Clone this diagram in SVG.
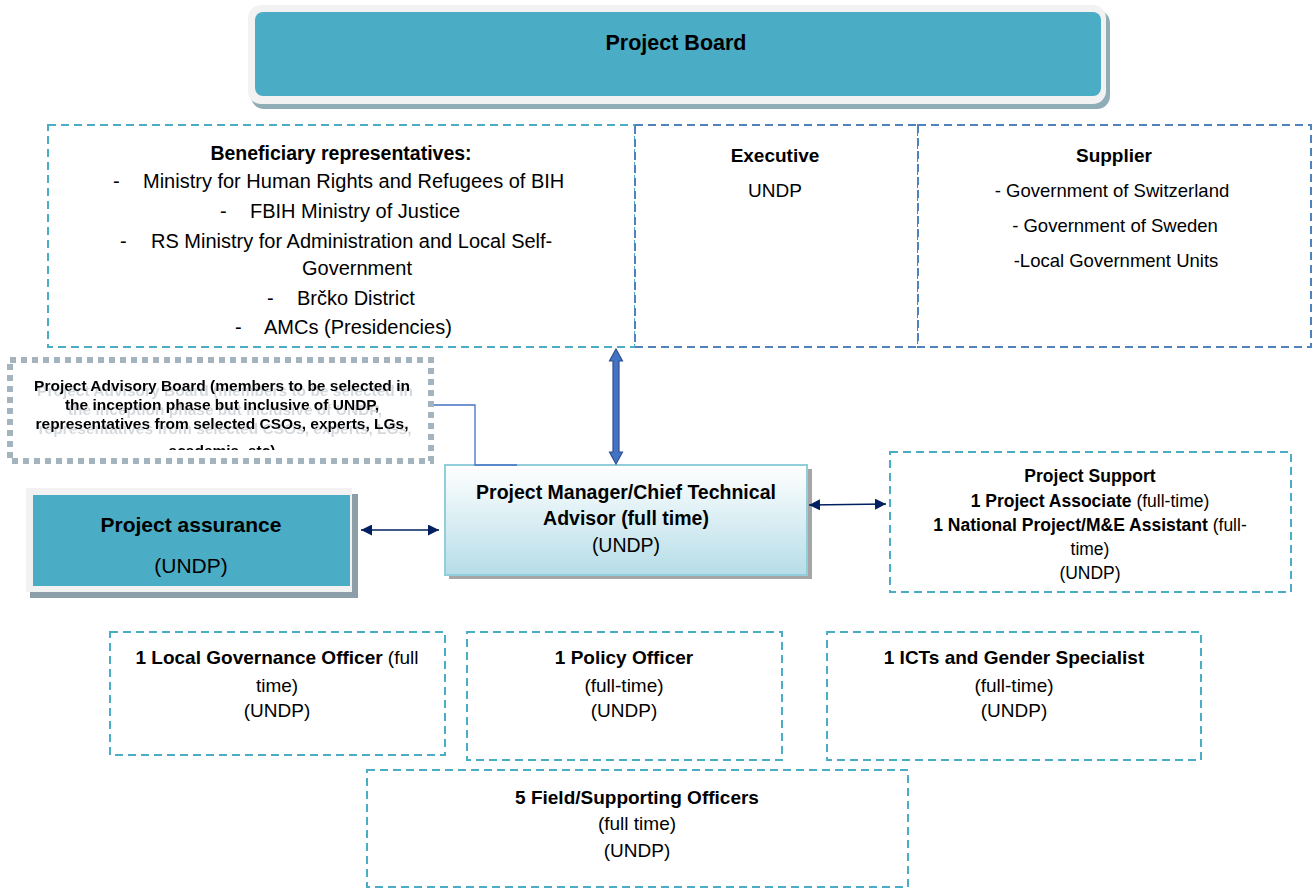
<svg xmlns="http://www.w3.org/2000/svg" width="1312" height="888" viewBox="0 0 1312 888">
<defs>
<style>
text{font-family:"Liberation Sans",Arial,sans-serif;fill:#000;}
.b{font-weight:bold;}
.c{text-anchor:middle;}
.dash{fill:#fff;stroke:#4BACC6;stroke-width:2;stroke-dasharray:8 5;}
.dashb{fill:#fff;stroke:#4F81BD;stroke-width:2;stroke-dasharray:8 5;}
.conn{stroke:#002060;stroke-width:1.6;fill:none;marker-start:url(#ah);marker-end:url(#ah);}
</style>
<marker id="ah" viewBox="0 0 10 10" refX="10" refY="5" markerWidth="11" markerHeight="11" markerUnits="userSpaceOnUse" orient="auto-start-reverse">
<path d="M0,0 L10,5 L0,10 z" fill="#002060"/>
</marker>
<linearGradient id="pmg" x1="0" y1="0" x2="0" y2="1">
<stop offset="0" stop-color="#FFFFFF"/>
<stop offset="1" stop-color="#B6DDE8"/>
</linearGradient>
<filter id="tsh" x="-5%" y="-20%" width="110%" height="150%">
<feFlood flood-color="#a9b3ba" flood-opacity="0.5" result="f"/>
<feComposite in="f" in2="SourceAlpha" operator="in" result="s"/>
<feOffset in="s" dx="3" dy="5" result="o"/>
<feMerge><feMergeNode in="o"/><feMergeNode in="SourceGraphic"/></feMerge>
</filter>
<clipPath id="advclip"><rect x="12" y="361" width="418" height="89"/></clipPath>
</defs>

<g id="project-board">
<rect x="251" y="10" width="859" height="99" rx="13" fill="#8FADB7"/>
<rect x="248" y="5" width="858" height="99" rx="13" fill="#F2F2F2"/>
<rect x="255" y="12" width="846" height="84" rx="8" fill="#4BACC6"/>
<text class="b c" x="676" y="50" font-size="21.5">Project Board</text>
</g>

<g id="beneficiary">
<rect class="dash" x="48" y="125" width="587" height="222"/>
<text class="b c" x="341" y="160" font-size="19.5">Beneficiary representatives:</text>
<g font-size="20">
<text x="113" y="188">-</text><text x="143" y="188">Ministry for Human Rights and Refugees of BIH</text>
<text x="220" y="218">-</text><text x="250" y="218">FBIH Ministry of Justice</text>
<text x="120" y="248">-</text><text x="151" y="248">RS Ministry for Administration and Local Self-</text>
<text class="c" x="357" y="275">Government</text>
<text x="267" y="305">-</text><text x="297" y="305">Brčko District</text>
<text x="235" y="334">-</text><text x="264" y="334">AMCs (Presidencies)</text>
</g>
</g>

<g id="executive">
<rect class="dashb" x="635" y="125" width="283" height="222" stroke-width="1.6"/>
<text class="b c" x="775" y="162" font-size="19">Executive</text>
<text class="c" x="775" y="197" font-size="19">UNDP</text>
</g>

<g id="supplier">
<rect class="dashb" x="918" y="125" width="393" height="222" stroke-width="1.6"/>
<text class="b c" x="1114" y="162" font-size="19">Supplier</text>
<text class="c" x="1112" y="197" font-size="18.5">- Government of Switzerland</text>
<text class="c" x="1115" y="232" font-size="18.5">- Government of Sweden</text>
<text class="c" x="1116" y="267" font-size="18.5">-Local Government Units</text>
</g>

<g id="advisory-board">
<rect x="10" y="360" width="421" height="101" fill="#fff" stroke="#A3B4BF" stroke-width="6" stroke-dasharray="6 5"/>
<g clip-path="url(#advclip)" filter="url(#tsh)">
<text class="b c" x="222" y="391" font-size="15.5">Project Advisory Board (members to be selected in</text>
<text class="b c" x="222" y="410" font-size="15.5">the inception phase but inclusive of UNDP,</text>
<text class="b c" x="222" y="429" font-size="15.5">representatives from selected CSOs, experts, LGs,</text>
<text class="b c" x="222" y="456" font-size="15.5">academia, etc)</text>
</g>
</g>

<g id="project-manager">
<rect x="449" y="469" width="363" height="110" fill="#A6A6A6"/>
<rect x="445" y="465" width="362" height="110" fill="url(#pmg)" stroke="#92CDDC" stroke-width="2"/>
<text class="b c" x="626" y="499" font-size="19.5">Project Manager/Chief Technical</text>
<text class="b c" x="626" y="525" font-size="19.5">Advisor (full time)</text>
<text class="c" x="626" y="552" font-size="19.5">(UNDP)</text>
</g>

<g id="project-assurance">
<rect x="30" y="494" width="328" height="104" fill="#8C9FA8"/>
<rect x="26" y="488" width="326" height="104" fill="#F2F2F2"/>
<rect x="33" y="495" width="317" height="91" fill="#4BACC6"/>
<text class="b c" x="191" y="532" font-size="21">Project assurance</text>
<text class="c" x="191" y="573" font-size="21">(UNDP)</text>
</g>

<g id="project-support">
<rect class="dash" x="890" y="452" width="401" height="140"/>
<g font-size="17.5">
<text class="b c" x="1090" y="482">Project Support</text>
<text class="c" x="1090" y="507"><tspan class="b">1 Project Associate</tspan> (full-time)</text>
<text class="c" x="1090" y="531"><tspan class="b">1 National Project/M&amp;E Assistant</tspan> (full-</text>
<text class="c" x="1090" y="555">time)</text>
<text class="c" x="1090" y="579">(UNDP)</text>
</g>
</g>

<g id="local-governance-officer" font-size="19">
<rect class="dash" x="110" y="632" width="335" height="123"/>
<text class="c" x="277" y="664"><tspan class="b">1 Local Governance Officer</tspan> (full</text>
<text class="c" x="277" y="692">time)</text>
<text class="c" x="277" y="717">(UNDP)</text>
</g>

<g id="policy-officer" font-size="19">
<rect class="dash" x="467" y="632" width="315" height="128"/>
<text class="b c" x="624" y="664">1 Policy Officer</text>
<text class="c" x="624" y="692">(full-time)</text>
<text class="c" x="624" y="717">(UNDP)</text>
</g>

<g id="ict-gender-specialist" font-size="19">
<rect class="dash" x="827" y="632" width="374" height="128"/>
<text class="b c" x="1014" y="664">1 ICTs and Gender Specialist</text>
<text class="c" x="1014" y="692">(full-time)</text>
<text class="c" x="1014" y="717">(UNDP)</text>
</g>

<g id="field-officers" font-size="19">
<rect class="dash" x="367" y="770" width="541" height="117"/>
<text class="b c" x="637" y="804">5 Field/Supporting Officers</text>
<text class="c" x="637" y="830">(full time)</text>
<text class="c" x="637" y="857">(UNDP)</text>
</g>

<g id="connectors">
<polygon points="616,349 622.5,361 619,361 619,452 622.5,452 616,464 609.5,452 613,452 613,361 609.5,361" fill="#4472C4" stroke="#2F4F8F" stroke-width="1.2"/>
<polyline points="434,405 475,405 475,465 517,465" fill="none" stroke="#4472C4" stroke-width="1.3"/>
<line class="conn" x1="361" y1="530" x2="439" y2="530"/>
<line class="conn" x1="809" y1="505" x2="886" y2="504"/>
</g>
</svg>
